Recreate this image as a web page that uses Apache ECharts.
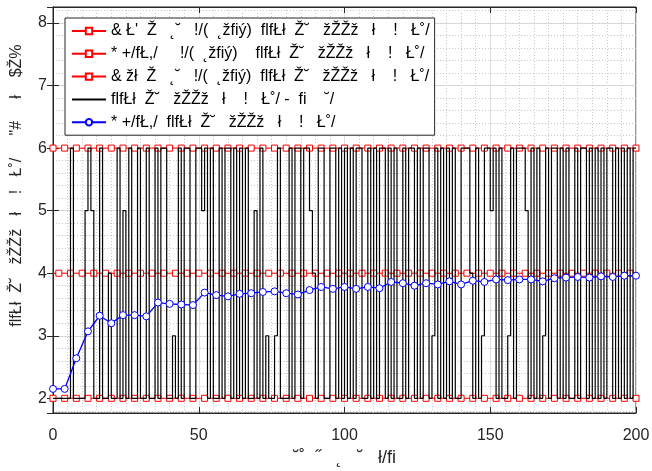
<!DOCTYPE html>
<html><head><meta charset="utf-8">
<script src="https://cdn.jsdelivr.net/npm/echarts@6/dist/echarts.min.js"></script>
<style>html,body{margin:0;padding:0;background:#fff}#c{width:652px;height:471px}</style>
</head><body><div id="c"></div>
<script>
// ---------- data ----------
const xTickValues = [0, 50, 100, 150, 200];
const yTickValues = [2, 3, 4, 5, 6, 7, 8];
const upperLimit = 6;
const refLevel = 4;
const lowerLimit = 2;
const limitMarkerX = [0,4,8,12,16,20,24,28,32,36,40,44,48,52,56,60,64,68,72,76,80,84,88,92,96,100,104,108,112,116,120,124,128,132,136,140,144,148,152,156,160,164,168,172,176,180,184,188,192,196,200];
const refMarkerX = [2,6,10,14,18,22,26,30,34,38,42,46,50,54,58,62,66,70,74,78,82,86,90,94,98,102,106,110,114,118,122,126,130,134,138,142,146,150,154,158,162,166,170,174,178,182,186,190,194,198];
const refLineEnds = [0, 200];
// switching signal, one value per unit step from x=0 to x=200
const switchSignal = [
 2,2,2,2,2,2,6,2,2,2,
 2,5,6,5,2,2,6,2,2,4,
 2,2,6,2,5,2,6,2,2,6,
 2,2,6,2,2,6,2,6,6,2,
 2,3,2,6,2,6,6,2,2,6,
 6,5,6,2,6,2,2,6,2,6,
 6,2,6,2,6,2,6,2,2,5,
 2,6,2,3,2,2,3,6,2,2,
 2,6,2,6,6,2,6,6,5,4,
 2,6,6,2,2,6,6,2,6,2,
 6,2,6,2,6,6,2,2,6,2,
 6,2,6,6,2,6,2,6,2,2,
 6,2,6,6,2,6,2,6,6,2,
 3,6,2,6,2,6,2,6,2,2,
 6,6,6,4,2,6,2,3,6,6,
 5,6,2,6,2,2,3,6,2,6,
 6,6,5,2,6,2,6,2,3,6,
 2,6,6,2,6,2,6,2,2,6,
 2,6,6,2,6,2,6,2,6,2,
 6,6,2,6,2,6,2,6,2,6,
 6
];
const estimateX = [0,4,8,12,16,20,24,28,32,36,40,44,48,52,56,60,64,68,72,76,80,84,88,92,96,100,104,108,112,116,120,124,128,132,136,140,144,148,152,156,160,164,168,172,176,180,184,188,192,196,200];
const estimateY = [2.15,2.15,2.64,3.07,3.32,3.20,3.33,3.33,3.31,3.53,3.51,3.50,3.49,3.69,3.65,3.63,3.67,3.68,3.70,3.71,3.68,3.66,3.73,3.78,3.75,3.78,3.75,3.78,3.76,3.86,3.84,3.80,3.84,3.82,3.87,3.82,3.88,3.86,3.90,3.89,3.90,3.90,3.87,3.92,3.93,3.94,3.93,3.95,3.94,3.96,3.96];
const seriesNames = [
 "& Ł'  Ž   ˛˘   !/(  ˛žfiý)  flfŁł  Ž˘   žŽŽž   ł    !   Ł˚/",
 "* +/fŁ,/     !/(  ˛žfiý)    flfŁł  Ž˘   žŽŽž   ł    !   Ł˚/",
 "& žł  Ž   ˛˘   !/(  ˛žfiý)  flfŁł  Ž˘   žŽŽž   ł    !   Ł˚/",
 "flfŁł  Ž˘   žŽŽž   ł    !   Ł˚/ -  fi    ˘/",
 "* +/fŁ,/  flfŁł  Ž˘   žŽŽž   ł    !   Ł˚/"
];
const yAxisName = '           flfŁł  Ž˘   žŽŽž   ł    !   Ł˚/     "#     ł    $Ž%';
const xAxisName = '˘˚  ˝   ˛   ˘   ł/fi';

// ---------- layout ----------
const FONT = "'Liberation Sans', Arial, Helvetica, sans-serif";
const TXT = '#262626';
const plotLeft = 53, plotRight = 636, plotTop = 7, plotBottom = 413, W = 652, H = 471;
const yMin = 1.765, yMax = 8.256;
const pxPerUnit = (plotBottom - plotTop) / (yMax - yMin);
const minorLo = 1.8, minorHi = 8.2;
const minorTopPx = plotTop + (yMax - minorHi) * pxPerUnit;
const minorBottomPx = plotTop + (yMax - minorLo) * pxPerUnit;

const chart = echarts.init(document.getElementById('c'), null, {renderer: 'canvas'});

const refData = [
  {value: [refLineEnds[0], refLevel], symbol: 'none'},
  ...refMarkerX.map(x => [x, refLevel]),
  {value: [refLineEnds[1], refLevel], symbol: 'none'}
];

const redSeries = (name, data) => ({
  name, type: 'line', xAxisIndex: 0, yAxisIndex: 0, data,
  symbol: 'rect', symbolSize: 6,
  lineStyle: {color: '#ff0000', width: 1},
  itemStyle: {color: '#ffffff', borderColor: '#ff0000', borderWidth: 1},
  emphasis: {disabled: true}, z: 2
});

chart.setOption({
  animation: false,
  backgroundColor: '#fff',
  textStyle: {fontFamily: FONT},
  grid: [
    {left: plotLeft, right: W - plotRight, top: plotTop, bottom: H - plotBottom,
     containLabel: false, outerBoundsMode: 'none',
     show: true, borderColor: TXT, borderWidth: 1, backgroundColor: 'transparent'},
    {left: plotLeft, right: W - plotRight, top: minorTopPx, bottom: H - minorBottomPx,
     containLabel: false, outerBoundsMode: 'none', show: false}
  ],
  legend: {
    orient: 'vertical', left: 65, top: 18,
    padding: [5, 5, 5, 6],
    itemWidth: 34, itemHeight: 8, itemGap: 6.8,
    borderColor: TXT, borderWidth: 1, backgroundColor: '#fff',
    textStyle: {fontSize: 16, color: '#000', fontFamily: FONT, lineHeight: 16},
    data: [
      seriesNames[0], seriesNames[1], seriesNames[2],
      {name: seriesNames[3], itemStyle: {opacity: 0}},
      seriesNames[4]
    ]
  },
  xAxis: [
    {type: 'value', gridIndex: 0, min: xTickValues[0], max: xTickValues[xTickValues.length - 1], interval: 50,
     name: xAxisName, nameLocation: 'middle', nameGap: 36,
     nameTextStyle: {fontSize: 18, color: TXT, fontFamily: FONT},
     axisLine: {show: true, lineStyle: {color: TXT, width: 1}},
     axisTick: {show: true, inside: true, length: 6, lineStyle: {color: TXT}},
     axisLabel: {fontSize: 16, color: TXT, margin: 15, fontFamily: FONT},
     splitLine: {show: true, lineStyle: {color: '#dfdfdf', width: 1}},
     minorTick: {show: false, splitNumber: 10},
     minorSplitLine: {show: true, lineStyle: {color: '#c8c8c8', width: 1, type: [1, 2]}}},
    {type: 'value', gridIndex: 0, position: 'top', min: 0, max: 200, interval: 50,
     axisLine: {show: true, lineStyle: {color: TXT}},
     axisTick: {show: true, inside: true, length: 6, lineStyle: {color: TXT}},
     axisLabel: {show: false}, splitLine: {show: false}},
    {type: 'value', gridIndex: 1, min: 0, max: 200, show: false}
  ],
  yAxis: [
    {type: 'value', gridIndex: 0, min: yMin, max: yMax,
     name: yAxisName, nameLocation: 'middle', nameGap: 28,
     nameTextStyle: {fontSize: 16, color: TXT, fontFamily: FONT},
     axisLine: {show: true, lineStyle: {color: TXT, width: 1}},
     axisTick: {show: true, inside: true, length: 6, lineStyle: {color: TXT}},
     axisLabel: {fontSize: 16, color: TXT, margin: 6, fontFamily: FONT, showMinLabel: false, showMaxLabel: false,
                 formatter: v => (yTickValues.indexOf(v) >= 0 ? String(v) : '')},
     splitLine: {show: true, lineStyle: {color: '#dfdfdf', width: 1}}},
    {type: 'value', gridIndex: 0, position: 'right', min: yMin, max: yMax,
     axisLine: {show: true, lineStyle: {color: TXT}},
     axisTick: {show: true, inside: true, length: 6, lineStyle: {color: TXT}},
     axisLabel: {show: false}, splitLine: {show: false}},
    {type: 'value', gridIndex: 1, min: minorLo, max: minorHi, interval: 0.2,
     axisLine: {show: false}, axisTick: {show: false}, axisLabel: {show: false},
     splitLine: {show: true, lineStyle: {color: '#c8c8c8', width: 1, type: [1, 2]}}}
  ],
  series: [
    redSeries(seriesNames[0], limitMarkerX.map(x => [x, upperLimit])),
    redSeries(seriesNames[1], refData),
    redSeries(seriesNames[2], limitMarkerX.map(x => [x, lowerLimit])),
    {name: seriesNames[3], type: 'line', xAxisIndex: 0, yAxisIndex: 0,
     data: switchSignal.map((v, i) => [i, v]), step: 'end', symbol: 'none',
     lineStyle: {color: '#000', width: 1.2}, itemStyle: {color: '#000'},
     emphasis: {disabled: true}, z: 3},
    {name: seriesNames[4], type: 'line', xAxisIndex: 0, yAxisIndex: 0,
     data: estimateX.map((x, i) => [x, estimateY[i]]),
     symbol: 'circle', symbolSize: 7,
     lineStyle: {color: '#0000ff', width: 1.3},
     itemStyle: {color: '#ffffff', borderColor: '#0000ff', borderWidth: 1},
     emphasis: {disabled: true}, z: 4}
  ]
});
</script></body></html>
